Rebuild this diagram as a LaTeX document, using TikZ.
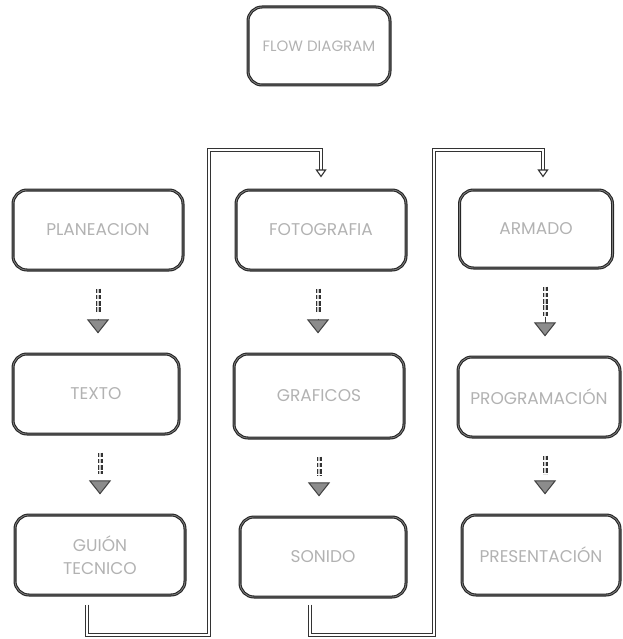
\documentclass[tikz,border=0pt]{standalone}
\usepackage{fontspec}
\setmainfont{Poppins}
\usetikzlibrary{calc,arrows.meta}

\begin{document}
\begin{tikzpicture}[x=1pt,y=-1pt]
        \tikzstyle{every node}=[draw=black!85,line width=1.1pt,double=black!50,double distance=0.8pt,rounded corners=14pt,minimum width=170pt,minimum height=80pt,inner sep=1pt,align=center,text=black!30,font=\fontsize{17}{23}\selectfont]
        \tikzstyle{stepline}=[draw=black!80,line width=1.1pt,double=black!20,double distance=2.8pt,dash pattern=on 4.5pt off 1.8pt,shorten <=18pt,shorten >=40pt]
        \tikzstyle{steptip}=[draw=black!75,line width=1pt,-{Triangle[width=22pt,length=14pt,fill=black!45]},shorten <=48pt,shorten >=20pt]
        \tikzstyle{link}=[draw=black!80,line width=1.1pt,double=white,double distance=2.6pt]
        \useasboundingbox (0,0) rectangle (622,639);
        \node (title) at (319,46) [minimum width=142pt,minimum height=78pt,font=\fontsize{15}{19}\selectfont] {FLOW DIAGRAM};
        % first column
        \node (plan) at (98,230) {PLANEACION};
        \node (texto) at (96,394) [minimum width=166pt] {TEXTO};
        \node (guion) at (100,555) {GUIÓN\\TECNICO};
        % second column
        \node (foto) at (321,230) {FOTOGRAFIA};
        \node (graf) at (319,396) [minimum height=84pt] {GRAFICOS};
        \node (sonido) at (323,557) [minimum width=166pt] {SONIDO};
        % third column
        \node (armado) at (536,229) [minimum width=153pt,minimum height=78pt] {ARMADO};
        \node (prog) at (539,397) [minimum width=162pt] {PROGRAMACIÓN};
        \node (pres) at (541,555) [minimum width=158pt] {PRESENTACIÓN};
        % steps inside each column
        \draw[stepline] (plan.south) -- (plan.south |- texto.north);
        \draw[steptip] (plan.south) -- (plan.south |- texto.north);
        \draw[stepline] (guion.north |- texto.south) -- (guion.north);
        \draw[steptip] (guion.north |- texto.south) -- (guion.north);
        \draw[stepline] ($(foto.south)+(-3,0)$) -- ($(foto.south |- graf.north)+(-3,0)$);
        \draw[steptip] ($(foto.south)+(-3,0)$) -- ($(foto.south |- graf.north)+(-3,0)$);
        \draw[stepline] (graf.south) -- (graf.south |- sonido.north);
        \draw[steptip] (graf.south) -- (graf.south |- sonido.north);
        \draw[stepline] ($(armado.south)+(9,0)$) -- ($(armado.south |- prog.north)+(9,0)$);
        \draw[steptip] ($(armado.south)+(9,0)$) -- ($(armado.south |- prog.north)+(9,0)$);
        \draw[stepline] ($(prog.south)+(6,0)$) -- ($(prog.south |- pres.north)+(6,0)$);
        \draw[steptip] ($(prog.south)+(6,0)$) -- ($(prog.south |- pres.north)+(6,0)$);
        % links between the columns
        \coordinate (bus1) at (209,150);
        \coordinate (bus2) at (434,150);
        \draw[link,-{Triangle[open,width=11pt,length=8pt]}] ($(guion.south)+(-13,9)$) |- (bus1 |- 0,635) -- (bus1) -| ($(foto.north)+(0,-12)$);
        \draw[link,-{Triangle[open,width=11pt,length=8pt]}] ($(sonido.south)+(-13,7)$) |- (bus2 |- 0,635) -- (bus2) -| ($(armado.north)+(7,-12)$);
    \end{tikzpicture}
\end{document}
